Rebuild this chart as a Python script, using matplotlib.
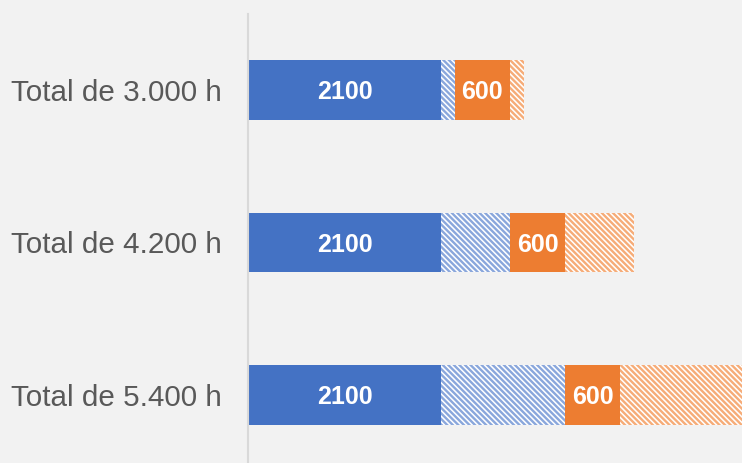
import matplotlib
matplotlib.use("Agg")
import matplotlib.pyplot as plt
from matplotlib import font_manager as fm
import numpy as np

categories = ['Total de 3.000 h', 'Total de 4.200 h', 'Total de 5.400 h']
blue_solid = [2100, 2100, 2100]
blue_hatch = [150, 750, 1350]
orange_solid = [600, 600, 600]
orange_hatch = [150, 750, 1350]

plt.rcParams['font.family'] = ['Liberation Sans', 'DejaVu Sans']
plt.rcParams['hatch.linewidth'] = 1.7

W, H = 742, 463
fig = plt.figure(figsize=(W / 100, H / 100), dpi=100)
fig.patch.set_facecolor('#f2f2f2')
ax = fig.add_axes([248 / W, 0, 1 - 248 / W, (H - 14) / H])
ax.set_facecolor('#f2f2f2')

y = np.arange(len(categories))
h = 0.39
left = np.zeros(len(categories))
blue = '#4472C4'
orange = '#ED7D31'
hatch = '\\' * 6

b1 = ax.barh(y, blue_solid, left=left, height=h, color=blue, lw=0)
left += np.array(blue_solid)
ax.barh(y, blue_hatch, left=left, height=h, facecolor='white',
        edgecolor='#8aa7dc', hatch=hatch, lw=0)
left += np.array(blue_hatch)
b3 = ax.barh(y, orange_solid, left=left, height=h, color=orange, lw=0)
left += np.array(orange_solid)
ax.barh(y, orange_hatch, left=left, height=h, facecolor='white',
        edgecolor='#f6ac78', hatch=hatch, lw=0)

bold_fp = fm.FontProperties(family=['Liberation Sans', 'DejaVu Sans'],
                            weight='bold', stretch='normal', size=18)
for bars, vals in ((b1, blue_solid), (b3, orange_solid)):
    texts = ax.bar_label(bars, labels=[str(v) for v in vals], label_type='center',
                         color='white', fontproperties=bold_fp)
    for t in texts:
        t.set_va('center_baseline')

ax.set_xlim(0, 5375)
ax.set_ylim(2.446, -0.498)
ax.set_yticks(y)
ax.set_yticklabels(categories, fontsize=21.3, color='#595959')
ax.tick_params(axis='y', length=0, pad=19)
ax.set_xticks([])
for s in ['top', 'right', 'bottom']:
    ax.spines[s].set_visible(False)
ax.spines['left'].set_color('#d9d9d9')
ax.spines['left'].set_linewidth(1.5)

fig.savefig('out.png', dpi=100, facecolor=fig.get_facecolor())
